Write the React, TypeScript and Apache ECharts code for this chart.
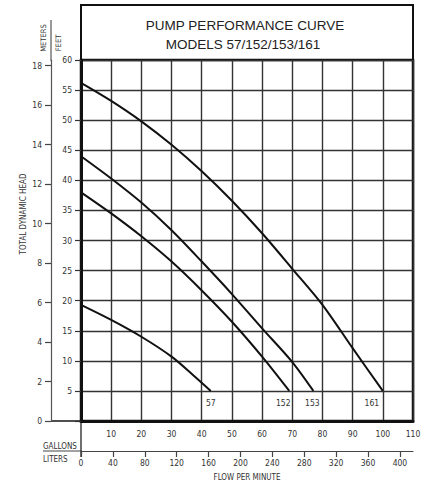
import React, { useEffect, useRef } from "react";
import * as echarts from "echarts";

// Flow in US gallons per minute, head in feet
const model57: number[][] = [[0, 19.3], [10, 16.8], [20, 14.0], [30, 10.7], [37, 7.7], [43, 5]];
const model152: number[][] = [[0, 38.0], [10, 34.5], [20, 30.7], [30, 26.5], [40, 21.7], [50, 16.5], [60, 10.7], [69, 5]];
const model153: number[][] = [[0, 44.0], [10, 40.3], [20, 36.3], [30, 31.7], [40, 26.5], [50, 21.1], [60, 15.4], [70, 9.8], [77, 5]];
const model161: number[][] = [[0, 56.2], [10, 53.2], [20, 49.8], [30, 45.9], [40, 41.5], [50, 36.6], [60, 31.2], [70, 25.3], [80, 19.3], [90, 12.1], [100, 5]];
const modelNames = ["57", "152", "153", "161"];

const GAL_MAX = 110;
const FEET_MAX = 60;
const LITERS_PER_GAL = 3.78541;
const FEET_PER_METER = 3.28084;
const literTicks = [0, 40, 80, 120, 160, 200, 240, 280, 320, 360, 400];
const meterTicks = [0, 2, 4, 6, 8, 10, 12, 14, 16, 18];

const FONT = "'Liberation Sans Narrow', 'DejaVu Sans Condensed', 'Liberation Sans', Arial, sans-serif";
const TITLE_FONT = "'Liberation Sans', Arial, sans-serif";

export default function App() {
  const ref = useRef<HTMLDivElement>(null);
  useEffect(() => {
    if (!ref.current) return;
    const chart = echarts.init(ref.current, undefined, { renderer: "svg" });
    const labelOffsets: number[][] = [[0, 1], [-6, 1], [-1, 1], [-11, 1]];
    const curves = [model57, model152, model153, model161];
    const series = curves.map((data, i) => ({
      type: "line",
      name: modelNames[i],
      smooth: 0.3,
      symbol: "circle",
      symbolSize: 1,
      showSymbol: true,
      itemStyle: { color: "rgba(0,0,0,0)" },
      xAxisIndex: 0,
      yAxisIndex: 0,
      lineStyle: { color: "#111", width: 2 },
      data: data.map((p, j) =>
        j === data.length - 1
          ? {
              value: p,
              label: {
                show: true,
                formatter: modelNames[i],
                position: "bottom",
                distance: 6,
                offset: labelOffsets[i],
                fontSize: 8.5,
                fontFamily: FONT,
                color: "#333",
              },
            }
          : { value: p }
      ),
    }));
    const grayLine = (x1: number, y1: number, x2: number, y2: number, w = 1.2, c = "#444") => ({
      type: "line",
      shape: { x1, y1, x2, y2 },
      style: { stroke: c, lineWidth: w },
      silent: true,
    });
    chart.setOption({
      animation: false,
      backgroundColor: "#fff",
      grid: { left: 81, right: 12, top: 60, bottom: 62, show: true, borderColor: "#111", borderWidth: 2.5, outerBoundsMode: "none" },
      xAxis: [
        {
          type: "value",
          min: 0,
          max: GAL_MAX,
          interval: 10,
          position: "bottom",
          axisLine: { show: true, onZero: false, lineStyle: { color: "#111", width: 3 } },
          axisTick: { show: false },
          axisLabel: { formatter: (v: number) => (v === 0 ? "" : String(v)), margin: 8, fontSize: 8.5, fontFamily: FONT, color: "#333" },
          splitLine: { show: true, lineStyle: { color: "#333", width: 1.4 } },
        },
        {
          type: "value",
          min: 0,
          max: GAL_MAX * LITERS_PER_GAL,
          position: "bottom",
          offset: 30,
          axisLine: { show: true, onZero: false, lineStyle: { color: "#444", width: 1.2 } },
          axisTick: { show: true, customValues: literTicks, length: 6, lineStyle: { color: "#444", width: 1.2 } },
          axisLabel: { customValues: literTicks, margin: 7, fontSize: 8.5, fontFamily: FONT, color: "#333" },
          splitLine: { show: false },
        },
      ],
      yAxis: [
        {
          type: "value",
          min: 0,
          max: FEET_MAX,
          interval: 5,
          position: "left",
          axisLine: { show: true, onZero: false, lineStyle: { color: "#111", width: 3 } },
          axisTick: { show: true, length: 6, lineStyle: { color: "#333", width: 1.2 } },
          axisLabel: { formatter: (v: number) => (v === 0 ? "" : String(v)), margin: 9, fontSize: 8.5, fontFamily: FONT, color: "#333" },
          splitLine: { show: true, lineStyle: { color: "#333", width: 1.4 } },
        },
        {
          type: "value",
          min: 0,
          max: FEET_MAX / FEET_PER_METER,
          position: "left",
          offset: 30,
          axisLine: { show: true, onZero: false, lineStyle: { color: "#555", width: 1.2 } },
          axisTick: { show: true, customValues: meterTicks, length: 6, lineStyle: { color: "#444", width: 1.2 } },
          axisLabel: { customValues: meterTicks, margin: 9, fontSize: 8.5, fontFamily: FONT, color: "#333" },
          splitLine: { show: false },
        },
      ],
      graphic: [
        { type: "rect", shape: { x: 81, y: 5, width: 332, height: 55 }, style: { fill: "none", stroke: "#111", lineWidth: 2 }, silent: true },
        { type: "text", x: 245, y: 25, style: { text: "PUMP PERFORMANCE CURVE", fontSize: 13.5, fontFamily: TITLE_FONT, fill: "#222", align: "center", verticalAlign: "middle" } },
        { type: "text", x: 243, y: 44, style: { text: "MODELS 57/152/153/161", fontSize: 13.5, fontFamily: TITLE_FONT, fill: "#222", align: "center", verticalAlign: "middle" } },
        grayLine(51, 20, 51, 61, 1.2, "#555"),
        grayLine(51, 421, 82, 421, 1.6, "#222"),
        grayLine(43, 451, 82, 451, 1.2, "#444"),
        grayLine(81, 421, 81, 457, 1.4, "#333"),
        { type: "text", x: 43, y: 446, style: { text: "GALLONS", fontSize: 8, fontFamily: FONT, fill: "#333", align: "left", verticalAlign: "middle" } },
        { type: "text", x: 43, y: 459, style: { text: "LITERS", fontSize: 8, fontFamily: FONT, fill: "#333", align: "left", verticalAlign: "middle" } },
        { type: "text", x: 247, y: 477, style: { text: "FLOW PER MINUTE", fontSize: 8, fontFamily: FONT, fill: "#333", align: "center", verticalAlign: "middle" } },
        { type: "text", x: 23, y: 214, rotation: Math.PI / 2, style: { text: "TOTAL DYNAMIC HEAD", fontSize: 8, fontFamily: FONT, fill: "#333", align: "center", verticalAlign: "middle" } },
        { type: "text", x: 43, y: 38, rotation: Math.PI / 2, style: { text: "METERS", fontSize: 7.5, fontFamily: FONT, fill: "#333", align: "center", verticalAlign: "middle" } },
        { type: "text", x: 58, y: 43, rotation: Math.PI / 2, style: { text: "FEET", fontSize: 7.5, fontFamily: FONT, fill: "#333", align: "center", verticalAlign: "middle" } },
      ],
      series,
    });
    return () => chart.dispose();
  }, []);
  return <div ref={ref} style={{ width: 425, height: 483, position: "absolute", left: 0, top: 0 }} />;
}
